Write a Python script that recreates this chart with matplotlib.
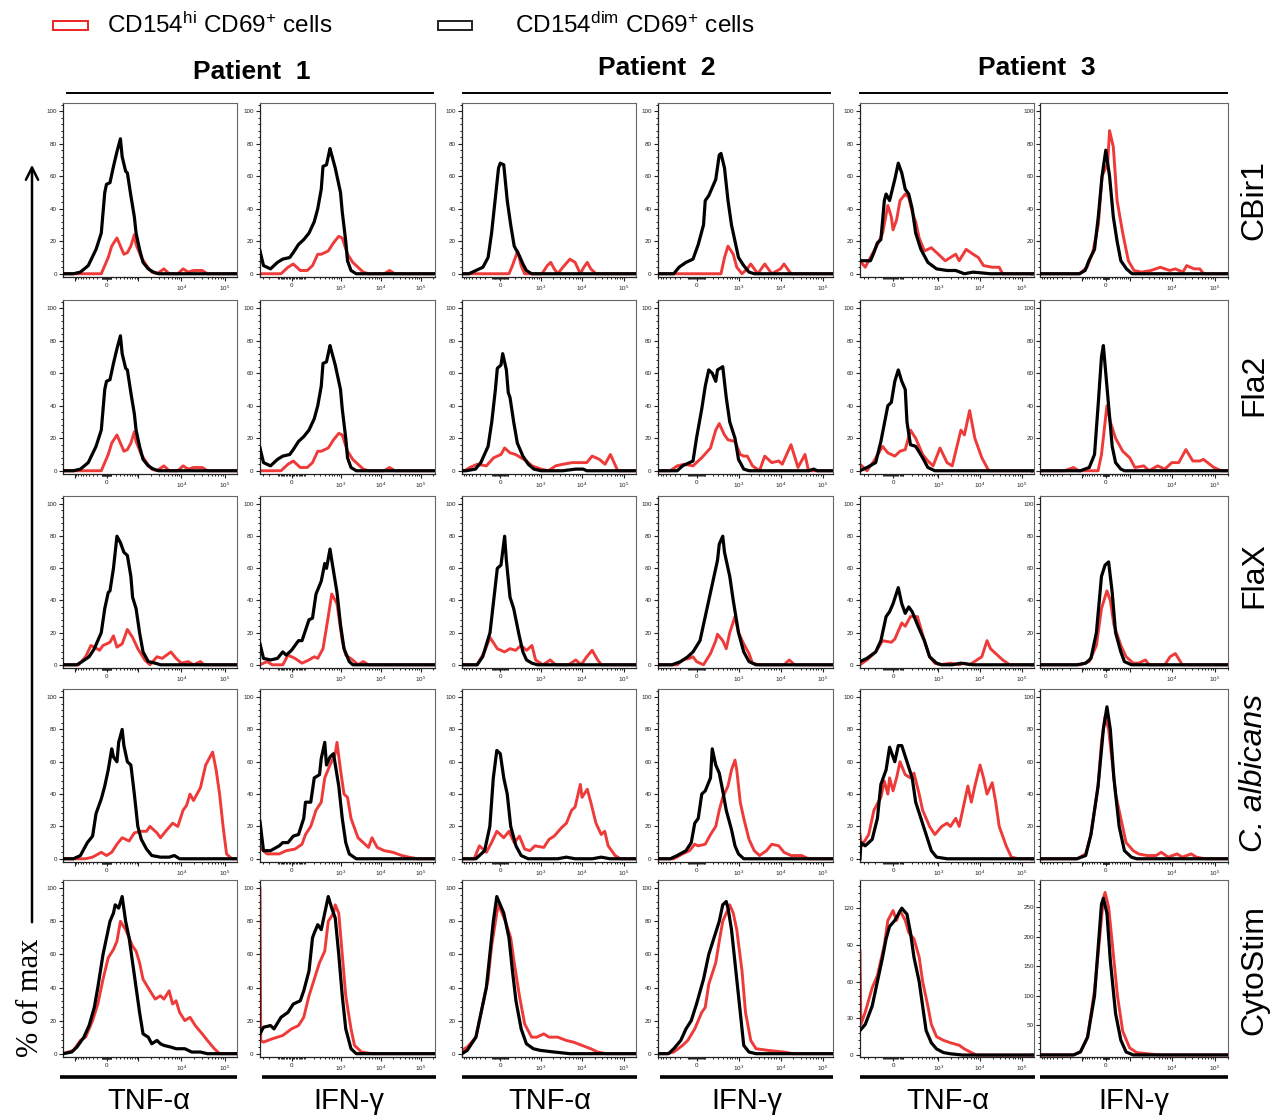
import numpy as np
import matplotlib
matplotlib.use("Agg")
import matplotlib.pyplot as plt
from matplotlib.patches import Rectangle
from matplotlib.ticker import MultipleLocator

plt.rcParams['font.family'] = ['Liberation Sans', 'DejaVu Sans']
plt.rcParams['mathtext.fontset'] = 'custom'
plt.rcParams['mathtext.rm'] = 'Liberation Sans'
plt.rcParams['mathtext.it'] = 'Liberation Sans:italic'
plt.rcParams['mathtext.bf'] = 'Liberation Sans:bold'

# ---------------- data: (position along axis [0-1], % of max) ----------------
# Row 1: CBir1
CBIR1_P1_TNF_DIM = [(0,0),(0.06,0),(0.10,1),(0.145,5),(0.19,15),(0.22,25),(0.24,50),(0.25,55),(0.27,56),(0.29,66),(0.31,75),(0.33,83),(0.34,72),(0.36,63),(0.37,62),(0.39,48),(0.41,35),(0.42,25),(0.44,15),(0.46,7),(0.49,3),(0.52,1),(0.55,0),(1,0)]
CBIR1_P1_TNF_HI = [(0,0),(0.22,0),(0.26,10),(0.28,17),(0.31,22),(0.33,17),(0.35,12),(0.37,13),(0.39,17),(0.41,24),(0.42,18),(0.45,10),(0.48,5),(0.51,1),(0.54,0),(0.58,3),(0.61,0),(0.66,0),(0.69,3),(0.72,1),(0.75,2),(0.80,2),(0.83,0),(1,0)]
CBIR1_P1_IFN_DIM = [(0,14),(0.02,5),(0.06,3),(0.10,7),(0.13,9),(0.17,10),(0.19,13),(0.22,18),(0.25,21),(0.28,25),(0.31,32),(0.33,40),(0.35,52),(0.36,66),(0.38,67),(0.40,77),(0.41,73),(0.43,65),(0.46,50),(0.47,38),(0.49,20),(0.50,8),(0.52,2),(0.55,0),(1,0)]
CBIR1_P1_IFN_HI = [(0,0),(0.12,0),(0.16,4),(0.19,6),(0.23,2),(0.27,2),(0.30,5),(0.33,12),(0.35,12),(0.39,14),(0.42,19),(0.45,23),(0.47,22),(0.50,12),(0.53,7),(0.57,3),(0.59,1),(0.62,0),(0.71,0),(0.74,2),(0.77,0),(1,0)]
CBIR1_P2_TNF_DIM = [(0,0),(0.04,0),(0.08,2),(0.12,4),(0.15,10),(0.17,25),(0.19,45),(0.21,65),(0.22,68),(0.24,67),(0.26,45),(0.28,30),(0.30,17),(0.33,11),(0.35,6),(0.37,2),(0.40,0),(1,0)]
CBIR1_P2_TNF_HI = [(0,0),(0.27,0),(0.29,5),(0.32,14),(0.34,5),(0.36,0),(0.46,0),(0.49,5),(0.51,7),(0.53,3),(0.55,0),(0.58,4),(0.62,9),(0.65,7),(0.68,0),(0.70,4),(0.72,7),(0.74,3),(0.77,0),(1,0)]
CBIR1_P2_IFN_DIM = [(0,0),(0.09,0),(0.12,4),(0.16,7),(0.20,9),(0.23,18),(0.26,30),(0.27,45),(0.29,48),(0.31,53),(0.33,58),(0.35,73),(0.36,74),(0.38,65),(0.40,45),(0.42,30),(0.44,20),(0.46,10),(0.49,5),(0.52,1),(0.55,0),(1,0)]
CBIR1_P2_IFN_HI = [(0,0),(0.36,0),(0.38,10),(0.40,17),(0.43,12),(0.45,4),(0.48,0),(0.51,3),(0.53,6),(0.55,3),(0.57,0),(0.59,3),(0.61,6),(0.63,3),(0.65,0),(0.70,3),(0.72,6),(0.74,3),(0.76,0),(1,0)]
CBIR1_P3_TNF_DIM = [(0,8),(0.06,8),(0.08,13),(0.10,19),(0.12,21),(0.14,45),(0.15,49),(0.17,45),(0.20,58),(0.22,68),(0.24,62),(0.26,52),(0.28,49),(0.30,40),(0.32,25),(0.35,15),(0.39,7),(0.44,3),(0.50,2),(0.55,2),(0.60,0),(0.65,1),(0.75,0),(1,0)]
CBIR1_P3_TNF_HI = [(0,8),(0.03,4),(0.07,12),(0.11,20),(0.13,25),(0.16,42),(0.18,35),(0.19,27),(0.21,33),(0.23,45),(0.26,49),(0.28,47),(0.30,38),(0.32,32),(0.34,22),(0.37,14),(0.41,16),(0.45,12),(0.49,8),(0.52,10),(0.55,12),(0.57,8),(0.61,15),(0.65,12),(0.68,10),(0.71,5),(0.76,4),(0.80,4),(0.82,0),(1,0)]
CBIR1_P3_IFN_DIM = [(0,0),(0.21,0),(0.24,2),(0.26,8),(0.29,15),(0.31,35),(0.33,60),(0.35,76),(0.37,60),(0.39,35),(0.41,20),(0.43,8),(0.46,3),(0.49,0),(1,0)]
CBIR1_P3_IFN_HI = [(0,0),(0.21,0),(0.25,4),(0.28,13),(0.31,30),(0.33,60),(0.36,68),(0.37,88),(0.39,78),(0.41,45),(0.44,25),(0.47,8),(0.50,2),(0.54,1),(0.59,2),(0.64,4),(0.69,2),(0.72,3),(0.76,1),(0.78,5),(0.82,3),(0.85,3),(0.87,0),(1,0)]

# Row 2: Fla2 (Patient 1 panels are identical to the CBir1 ones in the picture)
FLA2_P1_TNF_DIM = list(CBIR1_P1_TNF_DIM)
FLA2_P1_TNF_HI = list(CBIR1_P1_TNF_HI)
FLA2_P1_IFN_DIM = list(CBIR1_P1_IFN_DIM)
FLA2_P1_IFN_HI = list(CBIR1_P1_IFN_HI)
FLA2_P2_TNF_DIM = [(0,0),(0.024,0),(0.077,1),(0.108,5),(0.15,15),(0.171,30),(0.192,50),(0.203,63),(0.224,65),(0.234,72),(0.255,62),(0.266,48),(0.276,45),(0.297,30),(0.318,17),(0.35,9),(0.381,4),(0.413,1),(0.455,0),(0.58,0),(0.654,1),(0.696,1),(0.717,0),(1,0)]
FLA2_P2_TNF_HI = [(0,0),(0.014,0),(0.045,2),(0.087,4),(0.14,3),(0.182,8),(0.224,10),(0.245,14),(0.276,11),(0.308,10),(0.339,8),(0.371,6),(0.402,3),(0.455,1),(0.497,0),(0.538,3),(0.58,4),(0.633,5),(0.675,5),(0.717,5),(0.748,9),(0.79,7),(0.822,4),(0.853,10),(0.874,5),(0.895,0),(1,0)]
FLA2_P2_IFN_DIM = [(0,0),(0.11,0),(0.14,3),(0.18,5),(0.20,6),(0.22,20),(0.25,38),(0.27,52),(0.29,62),(0.31,60),(0.33,55),(0.34,62),(0.37,64),(0.39,45),(0.41,30),(0.44,20),(0.46,7),(0.49,1),(0.52,0),(0.86,0),(0.89,1),(0.91,0),(1,0)]
FLA2_P2_IFN_HI = [(0,0),(0.07,0),(0.11,3),(0.15,4),(0.20,3),(0.25,8),(0.30,14),(0.33,25),(0.35,29),(0.38,22),(0.40,19),(0.44,18),(0.47,10),(0.49,9),(0.51,9),(0.54,3),(0.58,0),(0.61,9),(0.65,5),(0.69,6),(0.71,4),(0.76,16),(0.80,2),(0.84,10),(0.86,0),(1,0)]
FLA2_P3_TNF_DIM = [(0,0),(0.04,2),(0.09,5),(0.12,18),(0.16,40),(0.18,42),(0.20,55),(0.22,62),(0.24,55),(0.26,50),(0.27,30),(0.29,16),(0.32,15),(0.36,8),(0.39,2),(0.43,0),(1,0)]
FLA2_P3_TNF_HI = [(0,4),(0.04,0),(0.08,6),(0.13,15),(0.16,11),(0.20,9),(0.23,12),(0.26,13),(0.29,25),(0.32,20),(0.36,10),(0.39,6),(0.42,3),(0.46,14),(0.50,5),(0.53,3),(0.58,25),(0.60,22),(0.63,37),(0.66,20),(0.70,8),(0.74,0),(1,0)]
FLA2_P3_IFN_DIM = [(0,0),(0.215,0),(0.262,2),(0.29,10),(0.309,40),(0.327,70),(0.337,77),(0.365,40),(0.384,15),(0.402,5),(0.43,1),(0.449,0),(1,0)]
FLA2_P3_IFN_HI = [(0,0),(0.131,0),(0.178,2),(0.206,0),(0.309,0),(0.327,10),(0.356,40),(0.374,30),(0.402,20),(0.44,12),(0.477,8),(0.505,2),(0.552,3),(0.58,0),(0.626,3),(0.664,1),(0.701,5),(0.738,5),(0.776,13),(0.813,6),(0.85,6),(0.869,7),(0.925,2),(0.963,0),(1,0)]

# Row 3: FlaX
FLAX_P1_TNF_DIM = [(0,0),(0.08,0),(0.11,2),(0.15,5),(0.18,10),(0.22,20),(0.24,35),(0.26,45),(0.27,46),(0.29,60),(0.31,80),(0.33,76),(0.35,70),(0.37,68),(0.39,55),(0.40,42),(0.42,35),(0.44,20),(0.46,8),(0.49,2),(0.53,1),(0.56,0),(1,0)]
FLAX_P1_TNF_HI = [(0,0),(0.09,0),(0.13,5),(0.16,12),(0.18,11),(0.21,9),(0.23,12),(0.25,13),(0.27,14),(0.29,18),(0.31,11),(0.34,13),(0.37,22),(0.40,17),(0.43,10),(0.47,3),(0.50,0),(0.54,5),(0.57,4),(0.62,8),(0.65,4),(0.68,1),(0.72,2),(0.75,0),(0.79,2),(0.81,0),(1,0)]
FLAX_P1_IFN_DIM = [(0,13),(0.02,4),(0.06,3),(0.10,4),(0.13,8),(0.15,6),(0.18,9),(0.22,15),(0.24,15),(0.28,28),(0.30,29),(0.32,44),(0.35,52),(0.37,63),(0.38,60),(0.40,72),(0.41,65),(0.44,45),(0.46,25),(0.48,10),(0.51,2),(0.53,0),(1,0)]
FLAX_P1_IFN_HI = [(0,0),(0.04,2),(0.07,0),(0.13,0),(0.16,6),(0.20,4),(0.24,1),(0.28,3),(0.31,5),(0.33,4),(0.36,10),(0.39,30),(0.41,44),(0.44,38),(0.47,15),(0.49,6),(0.53,3),(0.56,0),(0.59,2),(0.62,0),(1,0)]
FLAX_P2_TNF_DIM = [(0,0),(0.087,0),(0.119,5),(0.161,20),(0.182,40),(0.203,60),(0.224,62),(0.245,80),(0.255,65),(0.276,42),(0.297,35),(0.329,18),(0.35,8),(0.371,3),(0.402,1),(0.434,0),(1,0)]
FLAX_P2_TNF_HI = [(0,0),(0.087,0),(0.129,8),(0.161,17),(0.203,10),(0.245,8),(0.276,10),(0.308,9),(0.339,12),(0.371,9),(0.402,12),(0.423,3),(0.465,0),(0.507,3),(0.538,0),(0.612,0),(0.654,3),(0.685,0),(0.717,5),(0.748,9),(0.78,3),(0.801,0),(1,0)]
FLAX_P2_IFN_DIM = [(0,0),(0.08,0),(0.13,2),(0.17,5),(0.20,8),(0.24,15),(0.27,30),(0.30,45),(0.32,55),(0.34,65),(0.35,75),(0.37,80),(0.38,70),(0.41,55),(0.43,40),(0.46,20),(0.49,8),(0.52,2),(0.56,0),(1,0)]
FLAX_P2_IFN_HI = [(0,0),(0.11,0),(0.14,3),(0.18,4),(0.20,5),(0.22,2),(0.26,0),(0.30,7),(0.33,15),(0.34,19),(0.37,15),(0.39,10),(0.41,20),(0.44,30),(0.46,20),(0.49,13),(0.52,7),(0.54,1),(0.58,0),(0.72,0),(0.75,3),(0.78,0),(1,0)]
FLAX_P3_TNF_DIM = [(0,2),(0.04,4),(0.09,8),(0.12,15),(0.15,30),(0.17,33),(0.19,38),(0.22,48),(0.24,38),(0.26,32),(0.28,36),(0.30,33),(0.33,25),(0.37,15),(0.40,5),(0.44,1),(0.47,0),(0.53,0),(0.58,1),(0.65,0),(1,0)]
FLAX_P3_TNF_HI = [(0,0),(0.04,3),(0.09,8),(0.13,15),(0.18,14),(0.20,16),(0.24,26),(0.26,24),(0.29,30),(0.33,30),(0.37,15),(0.40,5),(0.43,1),(0.46,0),(0.52,1),(0.57,0),(0.60,1),(0.63,0),(0.70,5),(0.73,15),(0.75,10),(0.78,7),(0.82,3),(0.86,0),(1,0)]
FLAX_P3_IFN_DIM = [(0,0),(0.197,0),(0.243,1),(0.271,4),(0.30,20),(0.327,55),(0.346,62),(0.365,64),(0.384,45),(0.402,20),(0.43,8),(0.449,2),(0.486,0),(1,0)]
FLAX_P3_IFN_HI = [(0,0),(0.215,0),(0.262,2),(0.30,12),(0.327,35),(0.356,46),(0.374,40),(0.393,25),(0.43,12),(0.458,5),(0.496,1),(0.524,1),(0.561,3),(0.58,0),(0.664,0),(0.692,5),(0.72,7),(0.757,0),(1,0)]

# Row 4: C. albicans
CALB_P1_TNF_DIM = [(0,0),(0.06,0),(0.10,2),(0.14,10),(0.17,14),(0.19,28),(0.22,37),(0.24,45),(0.26,55),(0.28,68),(0.29,63),(0.31,60),(0.32,72),(0.34,80),(0.35,70),(0.37,60),(0.39,58),(0.41,40),(0.43,20),(0.45,12),(0.48,6),(0.51,2),(0.56,1),(0.61,1),(0.64,2),(0.67,0),(1,0)]
CALB_P1_TNF_HI = [(0,0),(0.13,0),(0.17,1),(0.22,4),(0.25,2),(0.28,4),(0.31,9),(0.34,13),(0.38,11),(0.41,16),(0.45,17),(0.48,17),(0.50,20),(0.54,16),(0.56,13),(0.59,17),(0.63,22),(0.66,20),(0.69,30),(0.71,33),(0.73,40),(0.75,36),(0.77,40),(0.79,44),(0.82,58),(0.84,62),(0.86,66),(0.88,55),(0.90,40),(0.92,20),(0.94,3),(0.97,0),(1,0)]
CALB_P1_IFN_DIM = [(0,23),(0.02,5),(0.06,5),(0.11,8),(0.13,10),(0.16,10),(0.19,14),(0.22,15),(0.25,25),(0.26,35),(0.29,35),(0.31,50),(0.34,52),(0.35,62),(0.37,72),(0.38,58),(0.40,63),(0.42,65),(0.45,45),(0.47,25),(0.49,10),(0.51,3),(0.55,0),(1,0)]
CALB_P1_IFN_HI = [(0,7),(0.04,3),(0.11,3),(0.15,5),(0.20,6),(0.24,9),(0.26,15),(0.29,20),(0.32,30),(0.35,35),(0.37,50),(0.40,58),(0.43,65),(0.44,72),(0.46,55),(0.48,40),(0.50,38),(0.52,25),(0.56,13),(0.59,10),(0.62,7),(0.64,13),(0.67,7),(0.71,5),(0.76,4),(0.81,2),(0.85,1),(0.90,0),(1,0)]
CALB_P2_TNF_DIM = [(0,0),(0.08,0),(0.13,5),(0.16,20),(0.18,50),(0.20,67),(0.22,65),(0.24,50),(0.26,40),(0.28,20),(0.31,8),(0.34,2),(0.38,0),(0.55,0),(0.60,1),(0.65,0),(0.75,0),(0.80,1),(0.85,0),(1,0)]
CALB_P2_TNF_HI = [(0,0),(0.07,0),(0.10,8),(0.14,4),(0.17,10),(0.20,17),(0.24,13),(0.27,17),(0.30,10),(0.33,14),(0.36,6),(0.39,5),(0.42,8),(0.47,7),(0.50,12),(0.53,14),(0.57,19),(0.60,22),(0.63,30),(0.65,32),(0.68,46),(0.69,38),(0.72,43),(0.74,35),(0.77,22),(0.80,15),(0.82,17),(0.84,8),(0.88,2),(0.91,0),(1,0)]
CALB_P2_IFN_DIM = [(0,0),(0.07,0),(0.11,2),(0.16,5),(0.19,10),(0.21,22),(0.23,25),(0.25,40),(0.27,42),(0.30,50),(0.31,68),(0.33,58),(0.35,53),(0.37,42),(0.39,30),(0.42,18),(0.44,8),(0.46,3),(0.49,0),(1,0)]
CALB_P2_IFN_HI = [(0,0),(0.09,0),(0.14,3),(0.18,5),(0.21,9),(0.23,8),(0.27,9),(0.30,15),(0.33,20),(0.35,30),(0.37,38),(0.40,45),(0.42,55),(0.44,61),(0.45,55),(0.47,35),(0.49,25),(0.52,12),(0.55,5),(0.58,2),(0.62,5),(0.65,9),(0.69,8),(0.72,4),(0.76,2),(0.82,2),(0.86,0),(1,0)]
CALB_P3_TNF_DIM = [(0,0),(0.005,10),(0.03,8),(0.07,12),(0.10,25),(0.12,46),(0.15,55),(0.17,69),(0.20,60),(0.22,70),(0.24,70),(0.27,60),(0.30,50),(0.32,35),(0.35,25),(0.38,15),(0.41,5),(0.44,1),(0.50,0),(1,0)]
CALB_P3_TNF_HI = [(0,15),(0.01,8),(0.05,15),(0.08,30),(0.12,38),(0.14,48),(0.16,40),(0.17,50),(0.19,42),(0.21,50),(0.23,60),(0.26,52),(0.29,50),(0.31,53),(0.34,40),(0.36,30),(0.40,20),(0.43,15),(0.47,20),(0.50,22),(0.52,20),(0.55,25),(0.57,20),(0.60,35),(0.62,45),(0.64,35),(0.66,45),(0.69,58),(0.71,50),(0.73,40),(0.76,47),(0.78,35),(0.80,20),(0.84,8),(0.87,1),(0.91,0),(1,0)]
CALB_P3_IFN_DIM = [(0,0),(0.197,0),(0.243,2),(0.271,15),(0.309,45),(0.337,80),(0.356,94),(0.374,80),(0.393,50),(0.421,20),(0.449,5),(0.486,1),(0.514,0),(1,0)]
CALB_P3_IFN_HI = [(0,0),(0.197,0),(0.243,3),(0.271,15),(0.309,45),(0.327,72),(0.346,88),(0.365,80),(0.384,60),(0.402,40),(0.43,25),(0.458,10),(0.496,5),(0.524,3),(0.57,2),(0.617,2),(0.645,4),(0.682,1),(0.729,3),(0.757,1),(0.804,3),(0.832,1),(0.879,0),(1,0)]

# Row 5: CytoStim
CYTO_P1_TNF_DIM = [(0,0),(0.05,1),(0.08,4),(0.12,10),(0.15,17),(0.18,28),(0.20,40),(0.23,60),(0.25,70),(0.27,80),(0.29,85),(0.30,90),(0.32,88),(0.34,95),(0.36,80),(0.38,70),(0.40,55),(0.42,40),(0.44,25),(0.46,12),(0.49,10),(0.51,6),(0.54,8),(0.56,6),(0.58,5),(0.62,4),(0.65,3),(0.70,3),(0.74,1),(0.79,1),(0.83,0),(1,0)]
CYTO_P1_TNF_HI = [(0,0),(0.06,2),(0.10,8),(0.13,10),(0.17,20),(0.20,30),(0.23,45),(0.26,58),(0.29,63),(0.31,68),(0.33,80),(0.36,75),(0.38,70),(0.40,65),(0.42,62),(0.44,55),(0.46,45),(0.50,38),(0.53,33),(0.56,35),(0.58,33),(0.61,38),(0.63,30),(0.65,32),(0.67,25),(0.70,20),(0.73,22),(0.76,17),(0.80,12),(0.83,8),(0.87,3),(0.90,0),(1,0)]
CYTO_P1_IFN_DIM = [(0,12),(0.02,16),(0.06,17),(0.08,15),(0.12,22),(0.16,25),(0.19,30),(0.23,32),(0.25,38),(0.28,50),(0.30,70),(0.31,73),(0.33,78),(0.35,75),(0.37,85),(0.39,95),(0.41,88),(0.43,82),(0.45,60),(0.47,35),(0.49,15),(0.52,3),(0.55,0),(1,0)]
CYTO_P1_IFN_HI = [(0,100),(0.004,8),(0.02,7),(0.07,9),(0.13,11),(0.18,15),(0.22,17),(0.25,22),(0.28,35),(0.31,45),(0.34,55),(0.37,62),(0.39,80),(0.42,85),(0.43,90),(0.45,85),(0.47,60),(0.49,35),(0.52,15),(0.54,5),(0.58,1),(0.64,0),(1,0)]
CYTO_P2_TNF_DIM = [(0,0),(0.03,2),(0.08,10),(0.11,25),(0.14,40),(0.16,60),(0.18,80),(0.20,95),(0.22,90),(0.24,85),(0.27,70),(0.29,50),(0.31,32),(0.34,15),(0.37,6),(0.41,3),(0.45,2),(0.53,1),(0.62,0),(1,0)]
CYTO_P2_TNF_HI = [(0,2),(0.03,4),(0.08,10),(0.11,25),(0.15,45),(0.17,65),(0.20,85),(0.21,90),(0.23,85),(0.25,80),(0.28,70),(0.30,55),(0.33,35),(0.36,18),(0.40,10),(0.43,10),(0.47,12),(0.50,10),(0.55,10),(0.60,8),(0.64,7),(0.69,5),(0.74,3),(0.78,1),(0.83,0),(1,0)]
CYTO_P2_IFN_DIM = [(0,0),(0.06,0),(0.09,3),(0.13,8),(0.16,15),(0.19,20),(0.22,30),(0.26,45),(0.29,60),(0.32,70),(0.35,80),(0.37,90),(0.39,92),(0.40,88),(0.42,75),(0.44,55),(0.47,25),(0.49,5),(0.52,1),(0.56,0),(1,0)]
CYTO_P2_IFN_HI = [(0,0),(0.05,0),(0.09,1),(0.14,5),(0.17,8),(0.21,15),(0.25,25),(0.27,28),(0.29,42),(0.33,55),(0.35,68),(0.37,80),(0.39,85),(0.41,90),(0.43,85),(0.45,75),(0.48,50),(0.50,25),(0.53,8),(0.56,3),(0.63,2),(0.72,1),(0.77,0),(1,0)]
CYTO_P3_TNF_DIM = [(0,20),(0.03,25),(0.07,40),(0.10,60),(0.13,80),(0.15,95),(0.17,105),(0.20,110),(0.22,115),(0.24,120),(0.27,115),(0.29,100),(0.31,80),(0.34,60),(0.36,40),(0.38,20),(0.41,10),(0.44,5),(0.48,2),(0.52,1),(0.59,0),(1,0)]
CYTO_P3_TNF_HI = [(0,85),(0.005,25),(0.03,35),(0.07,55),(0.10,65),(0.14,90),(0.16,110),(0.19,118),(0.21,110),(0.23,118),(0.26,110),(0.28,100),(0.31,95),(0.34,80),(0.36,60),(0.39,40),(0.41,25),(0.44,15),(0.48,12),(0.52,10),(0.57,8),(0.60,5),(0.64,2),(0.67,0),(1,0)]
CYTO_P3_IFN_DIM = [(0,0),(0.178,0),(0.215,5),(0.253,30),(0.29,100),(0.309,180),(0.327,255),(0.337,265),(0.356,240),(0.374,160),(0.402,70),(0.43,25),(0.458,5),(0.496,0),(1,0)]
CYTO_P3_IFN_HI = [(0,0),(0.178,0),(0.215,5),(0.253,30),(0.29,110),(0.318,200),(0.337,265),(0.346,275),(0.365,250),(0.384,190),(0.412,100),(0.44,40),(0.477,12),(0.514,4),(0.57,2),(0.636,0),(1,0)]

ROW_LABELS = ["CBir1", "Fla2", "FlaX", "C. albicans", "CytoStim"]
PATIENTS = ["Patient  1", "Patient  2", "Patient  3"]
MARKERS = ["TNF-α", "IFN-γ", "TNF-α", "IFN-γ", "TNF-α", "IFN-γ"]
LEGEND_LABELS = ["CD154$^{\\rm hi}$ CD69$^{+}$ cells", "CD154$^{\\rm dim}$ CD69$^{+}$ cells"]

PANELS = [
    [(CBIR1_P1_TNF_HI, CBIR1_P1_TNF_DIM), (CBIR1_P1_IFN_HI, CBIR1_P1_IFN_DIM),
     (CBIR1_P2_TNF_HI, CBIR1_P2_TNF_DIM), (CBIR1_P2_IFN_HI, CBIR1_P2_IFN_DIM),
     (CBIR1_P3_TNF_HI, CBIR1_P3_TNF_DIM), (CBIR1_P3_IFN_HI, CBIR1_P3_IFN_DIM)],
    [(FLA2_P1_TNF_HI, FLA2_P1_TNF_DIM), (FLA2_P1_IFN_HI, FLA2_P1_IFN_DIM),
     (FLA2_P2_TNF_HI, FLA2_P2_TNF_DIM), (FLA2_P2_IFN_HI, FLA2_P2_IFN_DIM),
     (FLA2_P3_TNF_HI, FLA2_P3_TNF_DIM), (FLA2_P3_IFN_HI, FLA2_P3_IFN_DIM)],
    [(FLAX_P1_TNF_HI, FLAX_P1_TNF_DIM), (FLAX_P1_IFN_HI, FLAX_P1_IFN_DIM),
     (FLAX_P2_TNF_HI, FLAX_P2_TNF_DIM), (FLAX_P2_IFN_HI, FLAX_P2_IFN_DIM),
     (FLAX_P3_TNF_HI, FLAX_P3_TNF_DIM), (FLAX_P3_IFN_HI, FLAX_P3_IFN_DIM)],
    [(CALB_P1_TNF_HI, CALB_P1_TNF_DIM), (CALB_P1_IFN_HI, CALB_P1_IFN_DIM),
     (CALB_P2_TNF_HI, CALB_P2_TNF_DIM), (CALB_P2_IFN_HI, CALB_P2_IFN_DIM),
     (CALB_P3_TNF_HI, CALB_P3_TNF_DIM), (CALB_P3_IFN_HI, CALB_P3_IFN_DIM)],
    [(CYTO_P1_TNF_HI, CYTO_P1_TNF_DIM), (CYTO_P1_IFN_HI, CYTO_P1_IFN_DIM),
     (CYTO_P2_TNF_HI, CYTO_P2_TNF_DIM), (CYTO_P2_IFN_HI, CYTO_P2_IFN_DIM),
     (CYTO_P3_TNF_HI, CYTO_P3_TNF_DIM), (CYTO_P3_IFN_HI, CYTO_P3_IFN_DIM)],
]

# axis decoration: positions of 0, 10^4, 10^5 on each column's biexponential axis
AXIS_ANCHORS = [(0.25, 0.68, 0.93), (0.18, 0.69, 0.92), (0.22, 0.69, 0.93),
                (0.22, 0.70, 0.94), (0.19, 0.69, 0.93), (0.35, 0.70, 0.93)]
AXIS_LABELLED = [(0, 1e4, 1e5), (0, 1e3, 1e4, 1e5), (0, 1e3, 1e4, 1e5),
                 (0, 1e3, 1e4, 1e5), (0, 1e3, 1e4, 1e5), (0, 1e4, 1e5)]

# ---------------- layout ----------------
W, H = 1273, 1115
fig = plt.figure(figsize=(W / 100, H / 100), dpi=100)
COLS = [(63, 237), (260, 435), (462, 636), (658, 833), (860, 1034), (1040, 1228)]
ROWS = [(103, 277), (300, 474), (496, 668), (689, 862), (880, 1057)]
RED = '#ef3a3a'


def biex(p0, p4, p5):
    r = (p5 - p0) / (p4 - p0)
    lo, hi = 1.0, 1e4
    for _ in range(100):
        w = np.sqrt(lo * hi)
        rr = np.arcsinh(1e5 / w) / np.arcsinh(1e4 / w)
        if rr < r:
            lo = w
        else:
            hi = w
    b = (p4 - p0) / np.arcsinh(1e4 / w)
    return lambda v: p0 + b * np.arcsinh(np.asarray(v, float) / w)


def label_for(v):
    if v == 0:
        return "0"
    return "$10^{%d}$" % int(round(np.log10(v)))


for ri, (top, bot) in enumerate(ROWS):
    for ci, (left, right) in enumerate(COLS):
        ax = fig.add_axes([left / W, 1 - bot / H, (right - left) / W, (bot - top) / H])
        hi, dim = PANELS[ri][ci]
        ax.plot([p[0] for p in hi], [p[1] for p in hi], color=RED, lw=2.1,
                solid_joinstyle='round', zorder=2)
        ax.plot([p[0] for p in dim], [p[1] for p in dim], color='black', lw=2.3,
                solid_joinstyle='round', zorder=3)
        ax.set_xlim(0, 1)
        if ri == 4 and ci == 4:
            ax.set_ylim(-1.6, 143)
            ax.yaxis.set_major_locator(MultipleLocator(30))
            ax.yaxis.set_minor_locator(MultipleLocator(6))
        elif ri == 4 and ci == 5:
            ax.set_ylim(-3.5, 296)
            ax.yaxis.set_major_locator(MultipleLocator(50))
            ax.yaxis.set_minor_locator(MultipleLocator(10))
        else:
            ax.set_ylim(-2, 105)
            ax.yaxis.set_major_locator(MultipleLocator(20))
            ax.yaxis.set_minor_locator(MultipleLocator(4))
        # biexponential x ticks
        f = biex(*AXIS_ANCHORS[ci])
        majv = [v for v in (-1e3, 0, 1e3, 1e4, 1e5) if 0 <= f(v) <= 1]
        ax.set_xticks([float(f(v)) for v in majv])
        ax.set_xticklabels([label_for(v) if v in AXIS_LABELLED[ci] else "" for v in majv])
        minv = []
        for d in range(1, 6):
            for k in range(1, 10):
                for s in (1, -1):
                    v = s * k * 10 ** d
                    if v in majv:
                        continue
                    p = float(f(v))
                    if 0 < p < 1:
                        minv.append(p)
        ax.set_xticks(minv, minor=True)
        ax.tick_params(axis='both', which='major', direction='out', length=3,
                       width=0.8, labelsize=4.5, pad=1.5, colors='#222222')
        ax.tick_params(axis='both', which='minor', direction='out', length=1.7,
                       width=0.7, colors='#222222')
        for side in ('left', 'bottom'):
            ax.spines[side].set_color('#222222')
            ax.spines[side].set_linewidth(0.9)
        for side in ('top', 'right'):
            ax.spines[side].set_color('#666666')
            ax.spines[side].set_linewidth(0.8)

# ---------------- overlay annotations in pixel coordinates ----------------
ov = fig.add_axes([0, 0, 1, 1], zorder=10)
ov.set_xlim(0, W)
ov.set_ylim(H, 0)
ov.axis('off')
ov.patch.set_alpha(0)

# legend
ov.add_patch(Rectangle((53, 21), 35, 9, fill=False, edgecolor='#ee2222', lw=1.4))
ov.add_patch(Rectangle((438, 21), 34, 9, fill=False, edgecolor='#222222', lw=1.4))
ov.text(107, 25, LEGEND_LABELS[0], fontsize=17.5, va='center', ha='left')
ov.text(515, 25, LEGEND_LABELS[1], fontsize=17.5, va='center', ha='left')

# patient headers
for (x, y), (x0, x1), lab in zip([(252, 72), (657, 68), (1037, 68)],
                                 [(67, 433), (463, 830), (860, 1227)], PATIENTS):
    ov.text(x, y, lab, fontsize=19, fontweight='bold', ha='center', va='center')
    ov.plot([x0, x1], [93, 93], color='black', lw=1.4)

# row labels
for (top, bot), lab, yc in zip(ROWS, ROW_LABELS, [200, 385, 575, 773, 970]):
    ov.text(1254, yc, lab, fontsize=23, rotation=90, ha='center', va='center',
            fontstyle='italic' if lab.startswith('C. ') else 'normal')

# bottom marker labels
for (left, right), lab in zip([(60, 237), (262, 436), (462, 637), (660, 833),
                               (860, 1035), (1040, 1228)], MARKERS):
    ov.plot([left, right], [1077, 1077], color='black', lw=2.6, solid_capstyle='butt')
    ov.text((left + right) / 2, 1101, lab, fontsize=21, ha='center', va='center')

# y axis arrow + label
ov.annotate('', xy=(32, 162), xytext=(32, 925),
            arrowprops=dict(arrowstyle='->', lw=1.8, color='black', mutation_scale=22))
ov.text(30, 998, '% of max', fontsize=22, rotation=90, ha='center', va='center',
        family=['Liberation Serif', 'DejaVu Serif'])

fig.savefig('out.png', dpi=100, facecolor='white')
